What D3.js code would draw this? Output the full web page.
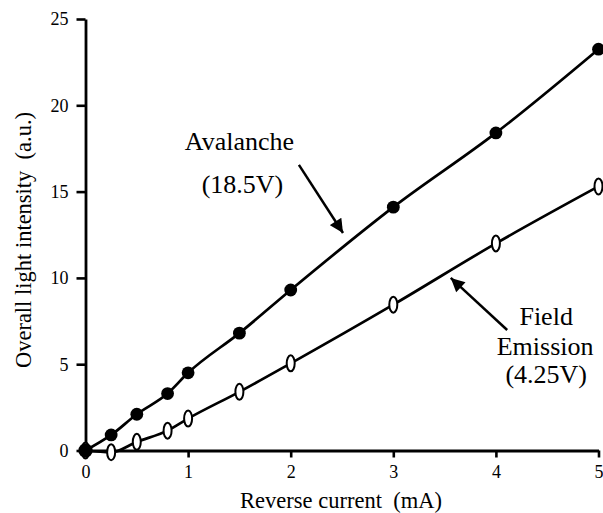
<!DOCTYPE html>
<html>
<head>
<meta charset="utf-8">
<script src="https://cdn.jsdelivr.net/npm/d3@7"></script>
<style>
  body { margin: 0; background: #fff; }
  svg text { font-family: "Liberation Serif", "Times New Roman", serif; fill: #000; }
</style>
</head>
<body>
<svg id="chart" width="603" height="513"></svg>
<script>
// reverse current (mA)
var current = [0, 0.25, 0.5, 0.8, 1.0, 1.5, 2, 3, 4, 5];
// overall light intensity (a.u.)
var avalanche = [0, 0.9, 2.1, 3.3, 4.5, 6.8, 9.3, 14.1, 18.4, 23.25];
var fieldEmission = [0, -0.1, 0.5, 1.15, 1.85, 3.4, 5.05, 8.45, 12.0, 15.3];

var xTicks = [0, 1, 2, 3, 4, 5];
var yTicks = [0, 5, 10, 15, 20, 25];

// annotation text lines and arrows, in data units
var labels = [
  { text: "Avalanche", x: 1.5, y: 17.4 },
  { text: "(18.5V)", x: 1.53, y: 14.92 },
  { text: "Field", x: 4.49, y: 7.3 },
  { text: "Emission", x: 4.48, y: 5.55 },
  { text: "(4.25V)", x: 4.49, y: 3.9 }
];
var arrows = [
  { x1: 2.08, y1: 16.55, x2: 2.51, y2: 12.6 },
  { x1: 4.11, y1: 6.98, x2: 3.56, y2: 10.0 }
];

var serif = '"Liberation Serif", "Times New Roman", serif';
var svg = d3.select("#chart");
var margin = { top: 19, right: 4.5, bottom: 62.5, left: 85.5 };
var width = 603 - margin.left - margin.right;
var height = 513 - margin.top - margin.bottom;

var g = svg.append("g").attr("transform", `translate(${margin.left},${margin.top})`);

var x = d3.scaleLinear().domain([0, 5]).range([0, width]);
var y = d3.scaleLinear().domain([0, 25]).range([height, 0]);

svg.append("defs").append("marker")
  .attr("id", "head")
  .attr("viewBox", "0 0 10 10")
  .attr("refX", 10).attr("refY", 5)
  .attr("markerWidth", 6).attr("markerHeight", 5.5)
  .attr("markerUnits", "strokeWidth")
  .attr("orient", "auto")
  .append("path")
  .attr("d", "M0,0 L10,5 L0,10 Z")
  .attr("fill", "#000");

// axes
var xAxis = g.append("g")
  .attr("transform", `translate(0,${height})`)
  .call(d3.axisBottom(x).tickValues(xTicks).tickFormat(d3.format("d"))
    .tickSize(7).tickPadding(6).tickSizeOuter(0));
var yAxis = g.append("g")
  .call(d3.axisLeft(y).tickValues(yTicks).tickFormat(d3.format("d"))
    .tickSize(9).tickPadding(8).tickSizeOuter(0));

[xAxis, yAxis].forEach(a => {
  a.attr("font-family", serif).attr("font-size", 18);
  a.select(".domain").attr("stroke", "#000").attr("stroke-width", 2.8);
  a.selectAll(".tick line").attr("stroke", "#000").attr("stroke-width", 2.6);
  a.selectAll(".tick text")
    .style("font-family", serif)
    .style("font-size", "18px").attr("fill", "#000");
});
yAxis.selectAll(".tick text").attr("dy", "0.33em");
xAxis.selectAll(".tick text").attr("dy", "0.78em");

// axis titles
svg.append("text")
  .attr("x", 341).attr("y", 508)
  .attr("text-anchor", "middle")
  .style("font-size", "22.5px")
  .text("Reverse current\u00a0 (mA)");
svg.append("text")
  .attr("transform", "translate(31,240) rotate(-90)")
  .attr("text-anchor", "middle")
  .style("font-size", "22.5px")
  .text("Overall light intensity\u00a0 (a.u.)");

// series lines
var line = d3.line()
  .x((d, i) => x(current[i]))
  .y(d => y(d))
  .curve(d3.curveMonotoneX);

g.append("path").datum(fieldEmission)
  .attr("d", line)
  .attr("fill", "none").attr("stroke", "#000").attr("stroke-width", 2.7);
g.append("path").datum(avalanche)
  .attr("d", line)
  .attr("fill", "none").attr("stroke", "#000").attr("stroke-width", 2.7);

// markers
g.selectAll(".open").data(fieldEmission)
  .join("ellipse")
  .attr("class", "open")
  .attr("cx", (d, i) => x(current[i]))
  .attr("cy", d => y(d))
  .attr("rx", 4).attr("ry", 8)
  .attr("fill", "#fff").attr("stroke", "#000").attr("stroke-width", 2);
g.selectAll(".filled").data(avalanche)
  .join("circle")
  .attr("class", "filled")
  .attr("cx", (d, i) => x(current[i]))
  .attr("cy", d => y(d))
  .attr("r", (d, i) => i == 0 ? 7.2 : 6.4)
  .attr("fill", "#000");

// annotations
g.selectAll(".note").data(labels)
  .join("text")
  .attr("class", "note")
  .attr("x", d => x(d.x))
  .attr("y", d => y(d.y))
  .attr("text-anchor", "middle")
  .style("font-size", "26px")
  .text(d => d.text);

g.selectAll(".arrow").data(arrows)
  .join("line")
  .attr("class", "arrow")
  .attr("x1", d => x(d.x1)).attr("y1", d => y(d.y1))
  .attr("x2", d => x(d.x2)).attr("y2", d => y(d.y2))
  .attr("stroke", "#000").attr("stroke-width", 2.5)
  .attr("marker-end", "url(#head)");
</script>
</body>
</html>
